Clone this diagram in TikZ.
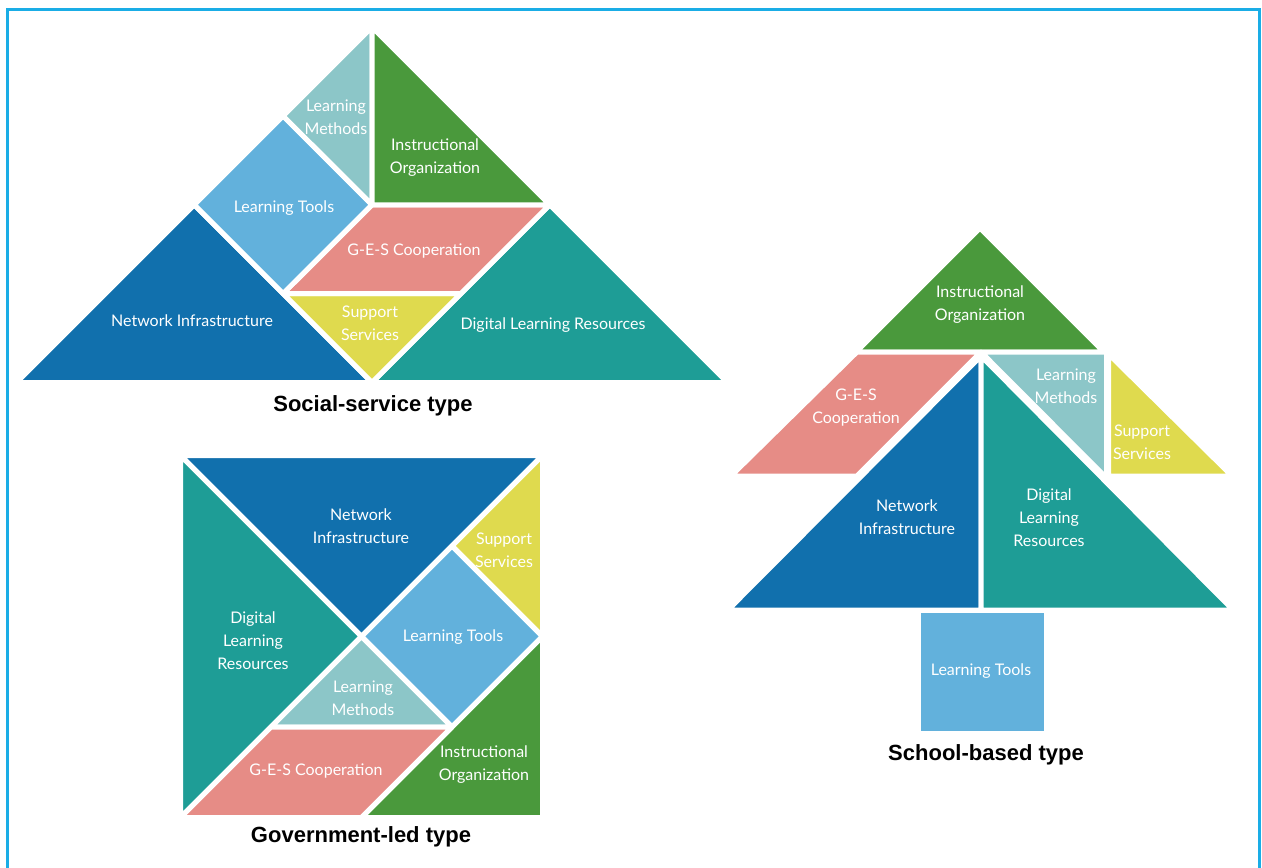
\documentclass[tikz,border=0pt]{standalone}
\usepackage{fontspec}
\setmainfont{Lato}
\newfontfamily\titlefont{Liberation Sans}
\definecolor{netblue}{HTML}{1170AD}
\definecolor{digteal}{HTML}{1E9D96}
\definecolor{toolblue}{HTML}{62B1DC}
\definecolor{methteal}{HTML}{8CC6C8}
\definecolor{instgreen}{HTML}{4A993C}
\definecolor{gespink}{HTML}{E68C86}
\definecolor{supyellow}{HTML}{DFDA4E}
\definecolor{framecyan}{HTML}{1AADE6}
\begin{document}
\begin{tikzpicture}[x=1pt,y=-1pt,
  piece/.style={draw=white,line width=5pt,line join=round},
  lbl/.style={text=white,align=center,font=\fontsize{16}{23}\selectfont,inner sep=0pt},
  ttl/.style={font=\titlefont\bfseries\fontsize{22}{26}\selectfont,inner sep=0pt,text=black}]
\useasboundingbox (0,0) rectangle (1262,868);
\fill[white] (0,0) rectangle (1262,868);
\draw[framecyan,line width=2.2pt] (7.5,868) -- (7.5,9.5) -- (1259.5,9.5) -- (1259.5,868);

% ---------- Social-service type ----------
\path[piece,fill=netblue]   (16.5,382.5) -- (194.25,204.75) -- (372,382.5) -- cycle;
\path[piece,fill=digteal]   (372,382.5) -- (549.75,204.75) -- (727.5,382.5) -- cycle;
\path[piece,fill=supyellow] (283.1,293.6) -- (460.9,293.6) -- (372,382.5) -- cycle;
\path[piece,fill=gespink]   (283.1,293.6) -- (372,204.75) -- (549.75,204.75) -- (460.9,293.6) -- cycle;
\path[piece,fill=toolblue]  (194.25,204.75) -- (283.1,115.9) -- (372,204.75) -- (283.1,293.6) -- cycle;
\path[piece,fill=methteal]  (283.1,115.9) -- (372,27) -- (372,204.75) -- cycle;
\path[piece,fill=instgreen] (372,27) -- (549.75,204.75) -- (372,204.75) -- cycle;
\node[lbl] (s-meth) at (336,117) {Learning\\Methods};
\node[lbl] (s-inst) at (435,158) {Instructional\\Organization};
\node[lbl] (s-tool) at (284,208) {Learning Tools};
\node[lbl] (s-ges)  at (414,251) {G-E-S Cooperation};
\node[lbl] (s-sup)  at (370,323) {Support\\Services};
\node[lbl] (s-net)  at (192,321) {Network Infrastructure};
\node[lbl] (s-dig)  at (553,325) {Digital Learning Resources};
\node[ttl] (s-title) at (373,406) {Social-service type};

% ---------- Government-led type ----------
\path[piece,fill=netblue]   (180.5,455.5) -- (542.5,455.5) -- (361.5,636.5) -- cycle;
\path[piece,fill=digteal]   (180.5,455.5) -- (361.5,636.5) -- (180.5,817.5) -- cycle;
\path[piece,fill=supyellow] (542.5,455.5) -- (542.5,636.5) -- (452,546) -- cycle;
\path[piece,fill=toolblue]  (452,546) -- (542.5,636.5) -- (452,727) -- (361.5,636.5) -- cycle;
\path[piece,fill=methteal]  (361.5,636.5) -- (452,727) -- (271,727) -- cycle;
\path[piece,fill=instgreen] (542.5,636.5) -- (542.5,817.5) -- (361.5,817.5) -- cycle;
\path[piece,fill=gespink]   (271,727) -- (452,727) -- (361.5,817.5) -- (180.5,817.5) -- cycle;
\node[lbl] (g-net)  at (361,526) {Network\\Infrastructure};
\node[lbl] (g-sup)  at (504,550) {Support\\Services};
\node[lbl] (g-dig)  at (253,641) {Digital\\Learning\\Resources};
\node[lbl] (g-tool) at (453,637) {Learning Tools};
\node[lbl] (g-meth) at (363,698) {Learning\\Methods};
\node[lbl] (g-ges)  at (316,771) {G-E-S Cooperation};
\node[lbl] (g-inst) at (484,765) {Instructional\\Organization};
\node[ttl] (g-title) at (361,837) {Government-led type};

% ---------- School-based type ----------
\path[piece,fill=instgreen] (980,228) -- (1104,352) -- (856,352) -- cycle;
\path[piece,fill=gespink]   (857,352) -- (981,352) -- (857,476) -- (731,476) -- cycle;
\path[piece,fill=netblue]   (981,356) -- (981,610) -- (728,610) -- cycle;
\path[piece,fill=digteal]   (981,356) -- (981,610) -- (1233,610) -- cycle;
\path[piece,fill=methteal]  (981,352) -- (1106.5,352) -- (1106.5,478) -- cycle;
\path[piece,fill=supyellow] (1108.5,354) -- (1108.5,476) -- (1232,476) -- cycle;
\path[piece,fill=toolblue]  (918,610) rectangle (1046,733);
\node[lbl] (h-inst) at (980,305) {Instructional\\Organization};
\node[lbl] (h-ges)  at (856,408) {G-E-S\\Cooperation};
\node[lbl] (h-meth) at (1066,386) {Learning\\Methods};
\node[lbl] (h-sup)  at (1142,442) {Support\\Services};
\node[lbl] (h-net)  at (907,517) {Network\\Infrastructure};
\node[lbl] (h-dig)  at (1049,518) {Digital\\Learning\\Resources};
\node[lbl] (h-tool) at (981,671) {Learning Tools};
\node[ttl] (h-title) at (986,755) {School-based type};
\end{tikzpicture}
\end{document}
